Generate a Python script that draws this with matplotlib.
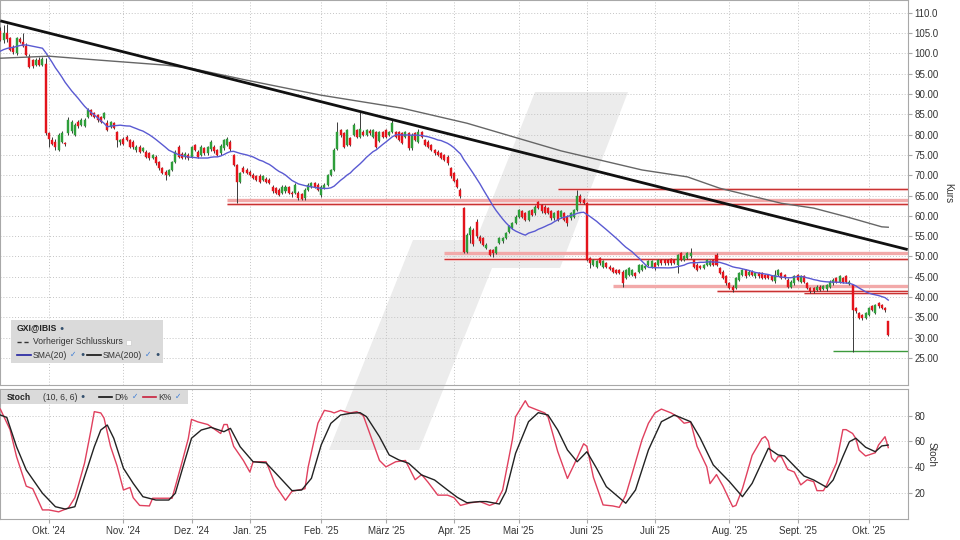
import matplotlib
matplotlib.use("Agg")
import matplotlib.pyplot as plt
import pandas as pd
from matplotlib.patches import Polygon, Rectangle
from matplotlib.lines import Line2D

plt.rcParams["font.family"] = ["Liberation Sans", "DejaVu Sans"]

# daily candles, one per trading session (index 0 = mid Sept 2024)
opens = [
    105.5, 103.3, 105.0, 103.7, 101.5, 100.0, 103.5, 102.7, 101.7, 99.2,
    98.4, 97.2, 98.3, 97.2, 97.5, 80.3, 78.7, 78.3, 76.2, 78.3,
    77.9, 80.3, 80.8, 80.0, 83.2, 82.4, 82.0, 84.4, 86.0, 85.2,
    84.8, 84.4, 84.0, 82.8, 81.9, 82.8, 80.7, 78.2, 79.0, 79.4,
    78.7, 78.3, 76.2, 77.0, 76.0, 75.8, 75.4, 74.2, 74.6, 73.3,
    71.7, 70.9, 70.1, 71.3, 73.3, 77.0, 75.3, 74.4, 75.0, 74.6,
    77.4, 75.8, 75.0, 76.6, 75.4, 76.4, 77.0, 76.2, 75.4, 76.6,
    77.5, 78.3, 75.0, 72.5, 68.4, 71.7, 71.3, 70.9, 70.1, 69.7,
    69.8, 68.9, 69.1, 68.9, 67.0, 66.8, 66.4, 65.6, 66.0, 67.0,
    65.7, 65.6, 65.6, 65.3, 64.3, 66.4, 67.2, 68.0, 67.6, 65.2,
    66.8, 67.6, 70.0, 71.3, 76.5, 81.1, 80.3, 77.5, 79.1, 79.9,
    81.1, 79.5, 80.7, 79.9, 81.0, 79.5, 80.7, 78.5, 80.7, 81.1,
    79.9, 80.7, 80.7, 80.7, 80.3, 79.5, 80.3, 76.6, 80.3, 78.3,
    80.7, 78.7, 78.3, 77.5, 76.2, 75.8, 75.4, 75.0, 74.6, 71.7,
    70.5, 68.8, 66.4, 61.9, 51.2, 55.3, 56.5, 58.6, 54.9, 54.5,
    52.1, 51.6, 51.6, 50.8, 53.3, 53.7, 54.5, 56.1, 57.0, 58.2,
    59.8, 61.1, 60.7, 59.0, 61.5, 60.6, 63.4, 62.7, 62.3, 61.9,
    61.1, 59.4, 61.1, 59.8, 60.7, 59.8, 59.4, 59.8, 61.5, 64.9,
    64.0, 63.1, 49.6, 47.9, 47.5, 49.6, 47.5, 48.3, 47.5, 47.1,
    46.7, 46.7, 46.3, 44.7, 45.5, 45.5, 45.9, 46.3, 46.7, 47.2,
    47.9, 47.5, 48.3, 47.9, 49.2, 49.2, 49.2, 49.3, 49.2, 48.0,
    50.8, 49.2, 49.6, 50.0, 49.2, 48.0, 47.7, 47.1, 48.0, 48.0,
    49.2, 50.4, 47.1, 46.3, 45.1, 43.4, 42.6, 42.2, 44.3, 45.5,
    46.7, 45.5, 46.3, 45.1, 45.9, 45.9, 45.5, 45.5, 45.1, 44.0,
    45.5, 45.9, 45.5, 44.3, 42.6, 43.4, 45.5, 43.8, 45.1, 43.4,
    42.2, 42.2, 41.8, 42.6, 42.0, 41.9, 42.6, 43.4, 44.7, 43.8,
    44.7, 45.1, 43.2, 43.0, 37.3, 36.1, 35.6, 34.8, 35.6, 37.7,
    36.1, 38.5, 38.1, 37.3, 34.0,
]
highs = [
    106.5, 107.0, 107.2, 104.0, 102.0, 104.0, 104.0, 105.0, 102.5, 99.8,
    98.6, 98.8, 99.0, 99.2, 98.8, 80.6, 79.3, 78.8, 80.5, 81.0,
    78.2, 84.4, 83.5, 82.8, 83.5, 84.0, 84.0, 86.5, 86.3, 85.6,
    85.0, 84.6, 85.6, 83.5, 83.4, 83.2, 81.0, 79.0, 79.5, 80.0,
    79.0, 78.6, 77.4, 77.4, 77.0, 76.2, 75.8, 75.3, 75.0, 73.6,
    72.0, 71.3, 71.6, 73.6, 76.2, 77.5, 75.7, 75.6, 75.4, 77.3,
    77.8, 76.2, 77.4, 77.0, 77.3, 78.7, 77.4, 76.5, 77.6, 79.0,
    79.5, 78.6, 75.3, 72.8, 70.9, 72.2, 71.8, 71.2, 70.5, 70.0,
    70.2, 70.0, 69.5, 69.2, 67.5, 67.2, 66.8, 67.5, 67.6, 67.3,
    66.0, 68.0, 66.0, 65.6, 66.8, 68.0, 68.4, 68.4, 68.0, 67.5,
    68.0, 70.3, 71.6, 76.6, 83.2, 81.5, 80.7, 81.5, 79.5, 82.8,
    81.5, 85.6, 81.2, 81.5, 81.3, 81.4, 81.0, 81.0, 81.0, 81.5,
    81.0, 83.6, 81.0, 81.0, 80.6, 81.0, 80.6, 80.3, 80.6, 81.5,
    81.0, 79.0, 78.6, 77.8, 76.5, 76.1, 75.7, 75.3, 74.9, 72.0,
    70.9, 69.2, 66.8, 62.3, 55.7, 57.4, 57.0, 59.2, 55.2, 54.8,
    53.2, 51.9, 51.9, 52.7, 54.8, 54.8, 56.0, 57.7, 58.5, 60.1,
    61.8, 61.4, 61.0, 61.4, 61.8, 62.6, 63.7, 63.0, 62.6, 62.2,
    61.4, 61.0, 61.4, 61.4, 61.0, 60.1, 61.0, 61.8, 66.4, 65.5,
    64.3, 63.4, 49.9, 49.5, 49.1, 49.9, 49.1, 48.6, 47.8, 47.4,
    47.0, 47.0, 46.6, 47.0, 47.4, 47.0, 46.2, 48.2, 48.2, 48.0,
    49.1, 49.1, 48.6, 49.5, 49.5, 49.5, 49.5, 49.6, 49.5, 50.6,
    51.1, 50.3, 51.1, 52.0, 49.5, 48.3, 48.0, 48.2, 49.5, 49.1,
    49.5, 50.8, 47.4, 46.6, 45.4, 43.7, 42.9, 45.0, 46.2, 47.0,
    47.0, 46.6, 46.6, 46.2, 46.2, 46.2, 45.8, 45.8, 45.4, 46.7,
    47.0, 46.2, 45.8, 44.6, 44.1, 45.4, 45.8, 45.4, 45.4, 43.7,
    42.5, 42.5, 42.9, 42.9, 43.1, 43.3, 44.1, 44.6, 45.0, 45.4,
    45.0, 45.5, 44.1, 43.3, 37.6, 36.4, 35.9, 36.4, 37.6, 38.0,
    38.4, 38.8, 38.4, 37.6, 34.2,
]
lows = [
    103.0, 102.5, 102.8, 100.5, 99.8, 99.6, 102.5, 101.5, 99.3, 96.3,
    96.3, 96.8, 96.9, 96.8, 80.0, 77.0, 77.5, 76.3, 76.0, 78.0,
    77.2, 80.0, 80.3, 79.6, 81.6, 82.0, 81.8, 84.0, 84.5, 84.0,
    83.2, 82.8, 83.8, 80.8, 81.6, 81.3, 77.0, 77.5, 77.5, 78.4,
    76.8, 76.5, 75.8, 75.4, 75.6, 74.3, 73.8, 73.9, 72.6, 71.4,
    70.2, 68.8, 69.8, 71.0, 73.0, 74.3, 73.9, 74.0, 73.8, 74.3,
    76.0, 74.3, 74.7, 75.0, 75.0, 76.0, 75.5, 74.7, 75.0, 76.3,
    77.2, 76.0, 72.2, 63.1, 68.0, 70.5, 70.2, 69.8, 69.0, 68.6,
    68.0, 68.5, 68.0, 67.8, 65.7, 65.3, 64.8, 65.3, 65.7, 65.3,
    64.7, 65.3, 64.0, 63.9, 64.0, 66.1, 66.9, 66.9, 66.0, 64.7,
    66.5, 67.3, 69.7, 71.0, 76.2, 79.5, 76.8, 77.2, 77.2, 79.6,
    79.2, 79.2, 79.6, 79.6, 80.0, 79.2, 76.8, 78.2, 79.2, 79.2,
    79.6, 80.4, 79.2, 78.4, 77.6, 79.2, 76.3, 76.2, 78.4, 78.0,
    79.2, 77.2, 76.7, 75.9, 75.1, 74.7, 73.9, 73.5, 72.6, 69.4,
    68.3, 66.8, 64.5, 50.8, 50.9, 53.4, 52.5, 54.6, 53.4, 52.6,
    51.8, 50.1, 49.8, 50.5, 53.0, 53.4, 54.2, 55.8, 56.7, 57.9,
    59.5, 59.5, 58.7, 58.7, 59.9, 60.3, 61.6, 60.8, 60.4, 60.4,
    59.1, 59.1, 58.7, 59.5, 58.7, 57.4, 59.1, 59.5, 61.2, 63.2,
    62.8, 48.9, 47.1, 47.6, 47.2, 48.0, 47.2, 47.2, 46.6, 46.0,
    45.6, 45.6, 42.6, 44.4, 45.2, 45.2, 44.8, 46.0, 46.4, 46.9,
    47.6, 47.2, 46.7, 47.6, 48.0, 48.0, 48.0, 48.0, 48.1, 45.9,
    48.9, 48.9, 49.3, 49.7, 47.2, 46.4, 46.8, 46.8, 47.7, 47.7,
    47.7, 47.7, 45.6, 44.4, 43.1, 41.9, 41.3, 41.9, 44.0, 45.2,
    44.8, 45.2, 45.2, 44.8, 44.8, 44.4, 44.4, 44.4, 44.0, 43.5,
    45.2, 44.4, 44.4, 42.3, 42.3, 43.1, 44.0, 43.5, 43.5, 41.9,
    41.1, 41.0, 41.5, 41.5, 41.7, 41.6, 42.3, 43.1, 43.5, 43.5,
    43.5, 43.5, 42.9, 26.6, 36.1, 34.5, 34.4, 34.5, 35.3, 36.6,
    35.8, 37.4, 37.0, 36.3, 30.5,
]
closes = [
    103.3, 105.0, 103.5, 100.8, 100.3, 103.7, 102.8, 101.9, 99.6, 96.7,
    96.8, 98.4, 97.2, 98.7, 80.3, 79.0, 77.8, 77.0, 80.0, 80.3,
    77.6, 83.6, 83.0, 82.4, 82.0, 83.6, 83.6, 86.0, 84.8, 84.4,
    83.6, 83.2, 85.2, 81.1, 83.1, 81.6, 78.7, 78.6, 77.8, 78.7,
    77.0, 77.0, 77.0, 75.8, 76.6, 74.6, 74.2, 75.0, 72.9, 71.7,
    70.5, 70.1, 71.3, 73.3, 75.8, 74.6, 74.2, 75.2, 74.2, 77.0,
    76.2, 74.6, 77.0, 75.4, 77.0, 78.3, 76.0, 75.0, 77.3, 78.7,
    78.9, 76.4, 72.5, 68.4, 70.5, 70.9, 70.5, 70.1, 69.3, 68.9,
    68.4, 69.7, 68.4, 68.1, 66.0, 65.6, 65.1, 67.2, 67.2, 65.7,
    65.3, 67.6, 64.3, 64.2, 66.4, 67.6, 68.0, 67.2, 66.4, 67.2,
    67.6, 70.0, 71.3, 76.2, 80.7, 79.9, 77.0, 81.1, 77.5, 82.4,
    79.5, 81.5, 79.9, 81.1, 80.3, 81.1, 77.0, 80.7, 79.5, 79.5,
    80.7, 82.8, 79.5, 78.7, 77.9, 80.7, 76.6, 79.9, 78.7, 80.7,
    79.5, 77.5, 77.0, 76.2, 75.4, 75.0, 74.2, 73.8, 72.9, 69.7,
    68.6, 67.2, 64.8, 51.2, 55.3, 57.0, 53.0, 55.0, 53.7, 52.9,
    52.9, 50.4, 50.8, 52.4, 54.5, 54.5, 55.7, 57.4, 58.2, 59.8,
    61.5, 59.8, 59.0, 61.1, 60.2, 62.3, 61.9, 61.1, 60.7, 60.7,
    59.4, 60.7, 59.0, 61.1, 59.0, 58.2, 60.7, 61.5, 64.8, 63.5,
    63.1, 49.2, 48.3, 49.2, 48.8, 48.3, 48.8, 47.5, 46.9, 46.3,
    45.9, 45.9, 43.4, 46.7, 47.1, 46.7, 45.1, 47.9, 47.9, 47.6,
    48.8, 48.8, 47.1, 49.2, 48.3, 48.3, 48.3, 48.3, 48.4, 50.4,
    49.2, 50.0, 50.8, 50.8, 47.5, 46.7, 47.1, 47.9, 49.2, 48.8,
    48.0, 48.0, 45.9, 44.7, 43.4, 42.2, 41.8, 44.7, 45.9, 46.7,
    45.1, 46.3, 45.5, 45.9, 45.1, 44.7, 44.7, 44.7, 44.3, 45.5,
    46.7, 44.7, 44.7, 42.6, 43.8, 45.1, 44.3, 45.1, 43.8, 42.2,
    41.4, 41.4, 42.6, 41.8, 42.8, 43.0, 43.8, 44.3, 43.8, 45.1,
    43.8, 43.8, 43.8, 36.9, 36.5, 34.8, 34.8, 36.1, 37.3, 36.9,
    38.1, 37.7, 37.3, 36.9, 30.7,
]
# 19 sessions before the visible window, needed for the first SMA(20) values
prior_closes = [97.5, 98.0, 97.0, 98.5, 99.0, 98.5, 99.5, 99.0, 100.0, 100.5,
                101.0, 100.5, 102.0, 101.5, 103.0, 102.5, 103.5, 102.0, 104.0]

sma200_days = [0, 15, 31, 51, 59, 76, 99, 124, 144, 173, 198, 212, 222, 241, 251, 261, 272, 274]
sma200_vals = [98.8, 99.3, 98.3, 97.1, 96.3, 93.4, 89.7, 86.5, 82.8, 76.0,
               71.3, 69.6, 66.8, 63.1, 61.9, 59.8, 57.3, 57.2]

# stochastic (10, 6, 6)
k_days = [0, 3, 5, 8, 10, 13, 15, 18, 21, 23, 26, 28, 29, 31, 32, 34, 36, 38, 40, 41,
          43, 46, 47, 50, 53, 56, 58, 59, 61, 64, 68, 69, 70, 72, 75, 77, 78, 82, 83, 85,
          88, 90, 94, 95, 98, 100, 102, 103, 105, 108, 110, 112, 114, 117, 119, 122, 125, 128, 130, 132,
          135, 138, 140, 142, 145, 148, 151, 153, 155, 156, 158, 159, 162, 163, 165, 168, 169, 172, 175, 177,
          180, 181, 183, 186, 189, 191, 193, 195, 198, 200, 202, 204, 207, 209, 211, 213, 215, 218, 219, 221,
          223, 226, 227, 229, 232, 235, 236, 237, 238, 239, 240, 241, 243, 245, 247, 249, 251, 252, 254, 255,
          258, 260, 261, 263, 264, 265, 267, 270, 271, 273, 274]
k_vals = [85, 69, 48, 25, 23, 6.5, 6.5, 5, 8, 16, 43, 69, 83, 82, 78, 56, 41, 22, 24, 16,
          10, 9.6, 15.6, 15.6, 15.6, 43, 62, 77, 75, 73, 66, 73, 73, 56, 45, 36, 44, 44, 38, 25,
          14, 21, 23, 40, 74, 84, 83, 82, 84, 82, 83, 80, 66, 45, 40, 44, 45, 30, 34, 28,
          18, 18, 16, 10, 12, 13, 10, 12, 22, 35, 61, 79, 91.5, 87, 85, 82, 79, 52, 31, 41.5,
          58, 56, 32, 10.4, 9.6, 8.5, 18, 35, 61, 74, 82, 85, 82, 79, 74, 75, 56, 40, 27, 34,
          25, 9, 10, 23, 49, 62, 63.6, 60, 47, 44, 48, 48, 38, 36, 26, 30, 28.5, 21.5, 21.5, 26,
          43, 69, 69, 66, 62, 53, 48.5, 51, 57, 63.5, 55]
d_days = [0, 2, 5, 8, 13, 17, 20, 23, 25, 29, 31, 33, 35, 38, 41, 44, 48, 52, 54, 57,
          59, 62, 65, 69, 71, 74, 78, 82, 86, 90, 93, 96, 99, 102, 105, 108, 111, 113, 117, 120,
          123, 126, 130, 134, 138, 141, 144, 148, 150, 154, 156, 159, 163, 166, 169, 172, 175, 178, 181, 184,
          187, 193, 196, 200, 204, 208, 213, 216, 220, 225, 229, 232, 237, 240, 242, 245, 248, 251, 255, 257,
          260, 262, 264, 267, 270, 272, 274]
d_vals = [80.4, 78.5, 55.7, 37.6, 19.5, 9, 7.2, 9, 24.6, 55.7, 68.7, 72.6, 62.3, 38.9, 27.2, 16.8, 14.2, 14.2, 19.5, 45.4,
          62.3, 68.7, 70.8, 67.4, 70, 55.7, 44, 43.1, 32.4, 21.5, 22, 31.1, 57, 73.9, 80.4, 81.7, 82.2, 79.1, 63.5, 49.3,
          45.4, 42.8, 33.7, 29.8, 22, 16.3, 12.1, 13, 13, 11.1, 20.7, 50.6, 75.2, 82.2, 80.4, 68.7, 53.2, 44, 51.8, 38.9,
          24.6, 11.7, 22, 53.2, 75.2, 80.4, 75.2, 62.3, 41.5, 28.5, 16.8, 27.2, 54.5, 49.3, 48.5, 40.7, 32.9, 29.8, 24.1, 29.8,
          48, 59.6, 62.3, 55.3, 51.8, 56.3, 57]

trend_days = [0, 280]
trend_prices = [108.0, 51.7]

level_starts = [70, 70, 172, 137, 137, 189, 221, 248, 257]
level_prices = [63.9, 62.9, 66.7, 50.85, 49.4, 42.7, 41.5, 40.95, 26.7]
level_kinds = ["pink", "red", "red", "pink", "red", "pink", "red", "red", "green"]

month_labels = ["Okt. '24", "Nov. '24", "Dez. '24", "Jan. '25", "Feb. '25", "März '25",
                "Apr. '25", "Mai '25", "Juni '25", "Juli '25", "Aug. '25", "Sept. '25", "Okt. '25"]
month_lengths = [23, 21, 18, 22, 20, 21, 20, 21, 21, 23, 21, 22]
first_month_day = 15

price_ticks = list(range(25, 111, 5))
stoch_ticks = [20, 40, 60, 80]

# ---- figure ----
W, H = 960, 540
fig = plt.figure(figsize=(9.6, 5.4), dpi=100)
fig.patch.set_facecolor("white")


def fx(px):
    return px / W


def fy(py):
    return 1 - py / H


ax = fig.add_axes([0, fy(385), fx(907.7), 385 / H])
ax2 = fig.add_axes([0, fy(519.3), fx(907.7), (519.3 - 389.3) / H])

# watermark behind both panels
mark = [(535, 92), (628, 92), (560, 268), (492, 268), (419, 450), (329, 450), (413, 240), (476, 240)]
fig.patches.append(Polygon([(fx(x), fy(y)) for x, y in mark], closed=True,
                           transform=fig.transFigure, facecolor="#ececec",
                           edgecolor="none", zorder=-5))

month_pos = [first_month_day]
for n in month_lengths:
    month_pos.append(month_pos[-1] + n)

for a in (ax, ax2):
    a.set_facecolor("none")
    a.set_xlim(-0.1, 280.0)
    a.set_xticks(month_pos)
    a.grid(True, color="#c4c4c4", linestyle=(0, (1, 2)), linewidth=0.7)
    a.set_axisbelow(True)
    for s in a.spines.values():
        s.set_color("#a8a8a8")
        s.set_linewidth(0.8)
    a.yaxis.tick_right()
    a.tick_params(axis="y", length=3, color="#a8a8a8", labelsize=7, labelcolor="#333333", pad=2)

ax.tick_params(axis="x", length=0, labelbottom=False)
ax2.set_xticklabels(month_labels)
ax2.tick_params(axis="x", length=3, color="#a8a8a8", labelsize=7, labelcolor="#333333", pad=2)

# price panel
idx = list(range(len(closes)))
colors = ["#2e9e3a" if c >= o else "#e3141c" for o, c in zip(opens, closes)]
bottoms = [min(o, c) for o, c in zip(opens, closes)]
heights = [max(abs(c - o), 0.25) for o, c in zip(opens, closes)]

for start, price, kind in zip(level_starts, level_prices, level_kinds):
    if kind == "green":
        ax.hlines(price, start, 280.5, color="#3c9a3c", linewidth=1.0, zorder=2)
    elif kind == "pink":
        ax.hlines(price, start, 280.5, color="#f2a9a9", linewidth=2.4, zorder=2)
    else:
        ax.hlines(price, start, 280.5, color="#f6c6c6", linewidth=2.2, zorder=2)
        ax.hlines(price, start, 280.5, color="#c83232", linewidth=0.8, zorder=2)

ax.vlines(idx, lows, highs, color="#3a3a3a", linewidth=0.7, zorder=3)
ax.bar(idx, heights, bottom=bottoms, width=0.62, color=colors, edgecolor=colors,
       linewidth=0.3, zorder=4)

sma20 = pd.Series(prior_closes + closes).rolling(20).mean().iloc[len(prior_closes):]
ax.plot(idx, sma20.to_numpy(), color="#5a5ad2", linewidth=1.0, zorder=5)
ax.plot(sma200_days, sma200_vals, color="#666666", linewidth=1.0, zorder=5)
ax.plot(trend_days, trend_prices, color="#111111", linewidth=2.0, zorder=6,
        solid_capstyle="butt")

ax.set_ylim(18.37, 113.13)
ax.set_yticks(price_ticks)
ax.set_yticklabels([f"{v:.1f}" if v >= 100 else f"{v:.2f}" for v in price_ticks])

# stochastic panel
ax2.plot(k_days, k_vals, color="#e0405e", linewidth=1.0, zorder=4)
ax2.plot(d_days, d_vals, color="#222222", linewidth=1.0, zorder=5)
ax2.set_ylim(-0.8, 100.4)
ax2.set_yticks(stoch_ticks)
ax2.set_yticklabels([str(v) for v in stoch_ticks])

fig.text(fx(948), fy(193), "Kurs", rotation=270, ha="center", va="center",
         fontsize=7, color="#333333")
fig.text(fx(932), fy(454), "Stoch", rotation=270, ha="center", va="center",
         fontsize=7, color="#333333")

# legend box (price panel)
fig.patches.append(Rectangle((fx(11), fy(363)), fx(152), 43 / H, transform=fig.transFigure,
                             facecolor="#dadada", edgecolor="none", zorder=10))
fs = 6.2
fig.text(fx(17), fy(328), "GXI@IBIS", fontsize=fs, fontweight="bold", va="center",
         color="#222222", zorder=11)
fig.text(fx(62), fy(328), "●", fontsize=5, va="center", ha="center", color="#34506e", zorder=11)
fig.add_artist(Line2D([fx(17), fx(30)], [fy(342)] * 2, color="#333333", linewidth=1.0,
                      dashes=(3, 2), zorder=11))
fig.text(fx(33), fy(342), "Vorheriger Schlusskurs", fontsize=fs, va="center",
         color="#333333", zorder=11)
fig.patches.append(Rectangle((fx(126), fy(345)), 5 / W, 5 / H, transform=fig.transFigure,
                             facecolor="white", edgecolor="#cccccc", linewidth=0.5, zorder=11))
fig.add_artist(Line2D([fx(17), fx(31)], [fy(355)] * 2, color="#2020a0", linewidth=1.2, zorder=11))
fig.text(fx(33), fy(355), "SMA(20)", fontsize=fs, va="center", color="#333333", zorder=11)
fig.text(fx(73), fy(355), "✓", fontsize=5.5, va="center", ha="center", color="#3a7bd5", zorder=11)
fig.text(fx(83), fy(355), "●", fontsize=5, va="center", ha="center", color="#34506e", zorder=11)
fig.add_artist(Line2D([fx(87), fx(101)], [fy(355)] * 2, color="#111111", linewidth=1.2, zorder=11))
fig.text(fx(103), fy(355), "SMA(200)", fontsize=fs, va="center", color="#333333", zorder=11)
fig.text(fx(148), fy(355), "✓", fontsize=5.5, va="center", ha="center", color="#3a7bd5", zorder=11)
fig.text(fx(158), fy(355), "●", fontsize=5, va="center", ha="center", color="#34506e", zorder=11)

# header box (stoch panel)
fig.patches.append(Rectangle((fx(0.5), fy(404)), fx(187), 14 / H, transform=fig.transFigure,
                             facecolor="#dadada", edgecolor="none", zorder=10))
fig.text(fx(7), fy(397), "Stoch", fontsize=fs, fontweight="bold", va="center",
         color="#222222", zorder=11)
fig.text(fx(43), fy(397), "(10, 6, 6)", fontsize=fs, va="center", color="#333333", zorder=11)
fig.text(fx(83), fy(397), "●", fontsize=5, va="center", ha="center", color="#34506e", zorder=11)
fig.add_artist(Line2D([fx(99), fx(112)], [fy(397)] * 2, color="#111111", linewidth=1.2, zorder=11))
fig.text(fx(114), fy(397), "D%", fontsize=fs, va="center", color="#333333", zorder=11)
fig.text(fx(135), fy(397), "✓", fontsize=5.5, va="center", ha="center", color="#3a7bd5", zorder=11)
fig.add_artist(Line2D([fx(143), fx(156)], [fy(397)] * 2, color="#c8203c", linewidth=1.2, zorder=11))
fig.text(fx(158), fy(397), "K%", fontsize=fs, va="center", color="#333333", zorder=11)
fig.text(fx(178), fy(397), "✓", fontsize=5.5, va="center", ha="center", color="#3a7bd5", zorder=11)

fig.savefig("out.png", dpi=100)
